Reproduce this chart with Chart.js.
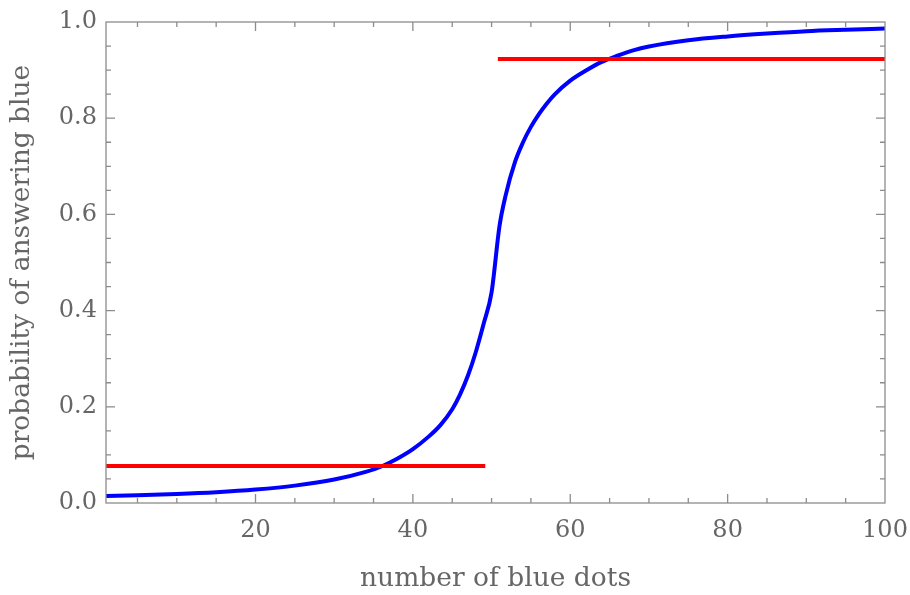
<!DOCTYPE html>
<html>
<head>
<meta charset="utf-8">
<script src="https://cdn.jsdelivr.net/npm/chart.js@4.4.0/dist/chart.umd.min.js"></script>
<style>
html, body { margin: 0; padding: 0; background: #fff; }
#wrap { width: 910px; height: 595px; }
</style>
</head>
<body>
<div id="wrap"><canvas id="myChart"></canvas></div>
<script>
// blue curve
var curveX = [1, 5, 10, 15, 20, 25, 30, 34, 36, 38, 40, 42, 43.5, 45, 46, 47, 48, 49, 50,
              51, 51.75, 53, 54, 55, 56, 57, 58, 60, 62, 64, 66, 68, 70, 75, 80, 85, 90, 95, 100];
var curveY = [0.0146, 0.0161, 0.0187, 0.0224, 0.0279, 0.0361, 0.0488, 0.0648, 0.0759, 0.092, 0.112, 0.138, 0.162, 0.195, 0.226, 0.265, 0.314, 0.373, 0.438,
              0.575, 0.637, 0.71, 0.75, 0.782, 0.808, 0.83, 0.849, 0.878, 0.899, 0.917, 0.93, 0.941, 0.949, 0.962, 0.97, 0.976, 0.981, 0.984, 0.9865];

// red levels
var lowX = [1, 49.2];
var lowY = [0.077, 0.077];
var highX = [50.8, 100];
var highY = [0.923, 0.923];

var xTicks = [20, 40, 60, 80, 100];
var yTicks = [0, 0.2, 0.4, 0.6, 0.8, 1.0];

var textColor = '#666666';
var fontFam = '"DejaVu Serif", serif';

function toPoints(xs, ys) {
    var pts = [];
    for (var i = 0; i < xs.length; i++) pts.push({x: xs[i], y: ys[i]});
    return pts;
}

function noPad(scale) {
    scale.paddingLeft = 0;
    scale.paddingRight = 0;
    scale.paddingTop = 0;
    scale.paddingBottom = 0;
}

// Mathematica style frame with inward ticks
var framePlugin = {
    id: 'frame',
    afterDraw: function (chart) {
        var ctx = chart.ctx;
        var a = chart.chartArea;
        var xs = chart.scales.x, ys = chart.scales.y;
        ctx.save();
        ctx.strokeStyle = '#8c8c8c';
        ctx.lineWidth = 1.3;
        ctx.strokeRect(a.left, a.top, a.right - a.left, a.bottom - a.top);
        ctx.beginPath();
        for (var v = 5; v < 100; v += 5) {
            var px = xs.getPixelForValue(v);
            var len = (v % 20 == 0) ? 9 : 5;
            ctx.moveTo(px, a.bottom); ctx.lineTo(px, a.bottom - len);
            ctx.moveTo(px, a.top); ctx.lineTo(px, a.top + len);
        }
        for (var k = 1; k < 20; k++) {
            var py = ys.getPixelForValue(k * 0.05);
            var len2 = (k % 4 == 0) ? 9 : 5;
            ctx.moveTo(a.left, py); ctx.lineTo(a.left + len2, py);
            ctx.moveTo(a.right, py); ctx.lineTo(a.right - len2, py);
        }
        ctx.stroke();
        ctx.restore();
    }
};

var ctx = document.getElementById('myChart').getContext('2d');
var myChart = new Chart(ctx, {
    type: 'scatter',
    data: {
        datasets: [{
            data: toPoints(lowX, lowY),
            showLine: true,
            borderColor: '#ff0000',
            borderWidth: 4,
            pointRadius: 0
        }, {
            data: toPoints(highX, highY),
            showLine: true,
            borderColor: '#ff0000',
            borderWidth: 4,
            pointRadius: 0
        }, {
            data: toPoints(curveX, curveY),
            showLine: true,
            borderColor: '#0000ff',
            borderWidth: 4,
            pointRadius: 0,
            cubicInterpolationMode: 'monotone'
        }]
    },
    options: {
        responsive: true,
        maintainAspectRatio: false,
        animation: false,
        layout: { padding: { left: 0, right: 25, top: 22, bottom: 0 } },
        plugins: {
            legend: { display: false },
            tooltip: { enabled: false }
        },
        scales: {
            x: {
                type: 'linear',
                min: 1,
                max: 100,
                afterBuildTicks: function (scale) {
                    scale.ticks = xTicks.map(function (v) { return {value: v}; });
                },
                afterFit: function (scale) { scale.height = 92; noPad(scale); },
                grid: { display: false, drawTicks: false },
                border: { display: false },
                ticks: {
                    color: textColor,
                    padding: 13,
                    maxRotation: 0,
                    font: { family: fontFam, size: 24 }
                },
                title: {
                    display: true,
                    text: 'number of blue dots',
                    color: textColor,
                    padding: { top: 0, bottom: 0 },
                    font: { family: fontFam, size: 26.5 }
                }
            },
            y: {
                type: 'linear',
                min: 0,
                max: 1,
                afterBuildTicks: function (scale) {
                    scale.ticks = yTicks.map(function (v) { return {value: v}; });
                },
                afterFit: function (scale) { scale.width = 106; noPad(scale); },
                grid: { display: false, drawTicks: false },
                border: { display: false },
                ticks: {
                    color: textColor,
                    padding: 9,
                    font: { family: fontFam, size: 24 },
                    callback: function (v) { return Number(v).toFixed(1); }
                },
                title: {
                    display: true,
                    text: 'probability of answering blue',
                    color: textColor,
                    padding: { top: 6, bottom: 0 },
                    font: { family: fontFam, size: 26.5 }
                }
            }
        }
    },
    plugins: [framePlugin]
});
</script>
</body>
</html>
